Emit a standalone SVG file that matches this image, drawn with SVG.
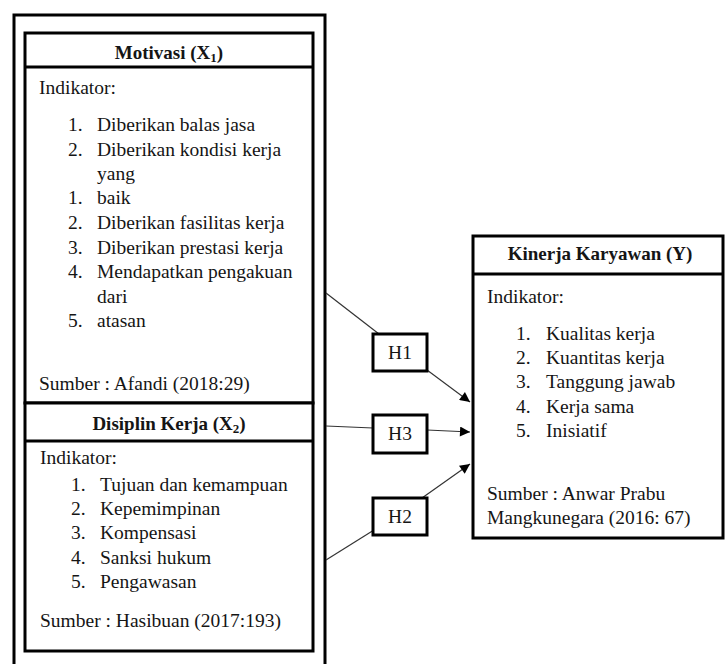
<svg xmlns="http://www.w3.org/2000/svg" width="725" height="664" viewBox="0 0 725 664">
<style>
.box{fill:#fff;stroke:#000;stroke-width:3}
.frame{fill:none;stroke:#000;stroke-width:3}
.sep{stroke:#000;stroke-width:3}
text{font-family:'Liberation Serif','Times New Roman',serif;font-size:19.5px;fill:#151515}
.h{font-weight:bold;text-anchor:middle;font-size:19px}
.c{text-anchor:middle}
.ln{stroke:#333;stroke-width:1.2;fill:none}
.hb{fill:#fff;stroke:#000;stroke-width:3}
</style>
<defs>
<marker id="arr" viewBox="0 0 10 10" refX="10" refY="5" markerWidth="11" markerHeight="10" markerUnits="userSpaceOnUse" orient="auto">
<path d="M0,0 L10,5 L0,10 z" fill="#000"/>
</marker>
</defs>
<rect width="725" height="664" fill="#fff"/>
<g id="frame">
<path class="frame" d="M14,680 L14,15 L325,15 L325,680"/>
</g>
<g id="motivasi">
<rect class="box" x="25" y="33" width="288" height="370"/>
<line class="sep" x1="25" y1="67" x2="313" y2="67"/>
<text class="h" x="169" y="59">Motivasi (X<tspan font-size="13" dy="3">1</tspan><tspan dy="-3">)</tspan></text>
<text x="39" y="94">Indikator:</text>
<text x="68" y="131">1.</text><text x="97" y="131">Diberikan balas jasa</text>
<text x="68" y="156">2.</text><text x="97" y="156">Diberikan kondisi kerja</text>
<text x="97" y="180">yang</text>
<text x="68" y="204">1.</text><text x="97" y="204">baik</text>
<text x="68" y="229">2.</text><text x="97" y="229">Diberikan fasilitas kerja</text>
<text x="68" y="254">3.</text><text x="97" y="254">Diberikan prestasi kerja</text>
<text x="68" y="278">4.</text><text x="97" y="278">Mendapatkan pengakuan</text>
<text x="97" y="303">dari</text>
<text x="68" y="327">5.</text><text x="97" y="327">atasan</text>
<text x="39" y="390">Sumber : Afandi (2018:29)</text>
</g>
<g id="disiplin">
<rect class="box" x="25" y="403" width="288" height="248"/>
<line class="sep" x1="25" y1="441" x2="313" y2="441"/>
<text class="h" x="169" y="430">Disiplin Kerja (X<tspan font-size="13" dy="3">2</tspan><tspan dy="-3">)</tspan></text>
<text x="40" y="464">Indikator:</text>
<text x="71" y="491">1.</text><text x="100" y="491">Tujuan dan kemampuan</text>
<text x="71" y="515">2.</text><text x="100" y="515">Kepemimpinan</text>
<text x="71" y="539">3.</text><text x="100" y="539">Kompensasi</text>
<text x="71" y="564">4.</text><text x="100" y="564">Sanksi hukum</text>
<text x="71" y="588">5.</text><text x="100" y="588">Pengawasan</text>
<text x="40" y="627">Sumber : Hasibuan (2017:193)</text>
</g>
<g id="kinerja">
<rect class="box" x="473" y="236" width="250" height="302"/>
<line class="sep" x1="473" y1="274" x2="723" y2="274"/>
<text class="h" x="600" y="260">Kinerja Karyawan (Y)</text>
<text x="487" y="303">Indikator:</text>
<text x="516" y="340">1.</text><text x="546" y="340">Kualitas kerja</text>
<text x="516" y="364">2.</text><text x="546" y="364">Kuantitas kerja</text>
<text x="516" y="388">3.</text><text x="546" y="388">Tanggung jawab</text>
<text x="516" y="413">4.</text><text x="546" y="413">Kerja sama</text>
<text x="516" y="437">5.</text><text x="546" y="437">Inisiatif</text>
<text x="487" y="500">Sumber : Anwar Prabu</text>
<text x="487" y="524">Mangkunegara (2016: 67)</text>
</g>
<g id="connectors">
<line class="ln" x1="326" y1="293" x2="379" y2="334"/>
<line class="ln" x1="427" y1="370" x2="470" y2="402" marker-end="url(#arr)"/>
<line class="ln" x1="326" y1="426" x2="373" y2="428"/>
<line class="ln" x1="427" y1="430" x2="470" y2="432" marker-end="url(#arr)"/>
<line class="ln" x1="326" y1="560" x2="374" y2="530"/>
<line class="ln" x1="422" y1="498" x2="470" y2="464" marker-end="url(#arr)"/>
</g>
<g id="h1">
<rect class="hb" x="373" y="334" width="54" height="37"/>
<text class="c" x="400" y="359">H1</text>
</g>
<g id="h3">
<rect class="hb" x="373" y="415" width="54" height="38"/>
<text class="c" x="400" y="440">H3</text>
</g>
<g id="h2">
<rect class="hb" x="373" y="498" width="54" height="37"/>
<text class="c" x="400" y="523">H2</text>
</g>
</svg>
